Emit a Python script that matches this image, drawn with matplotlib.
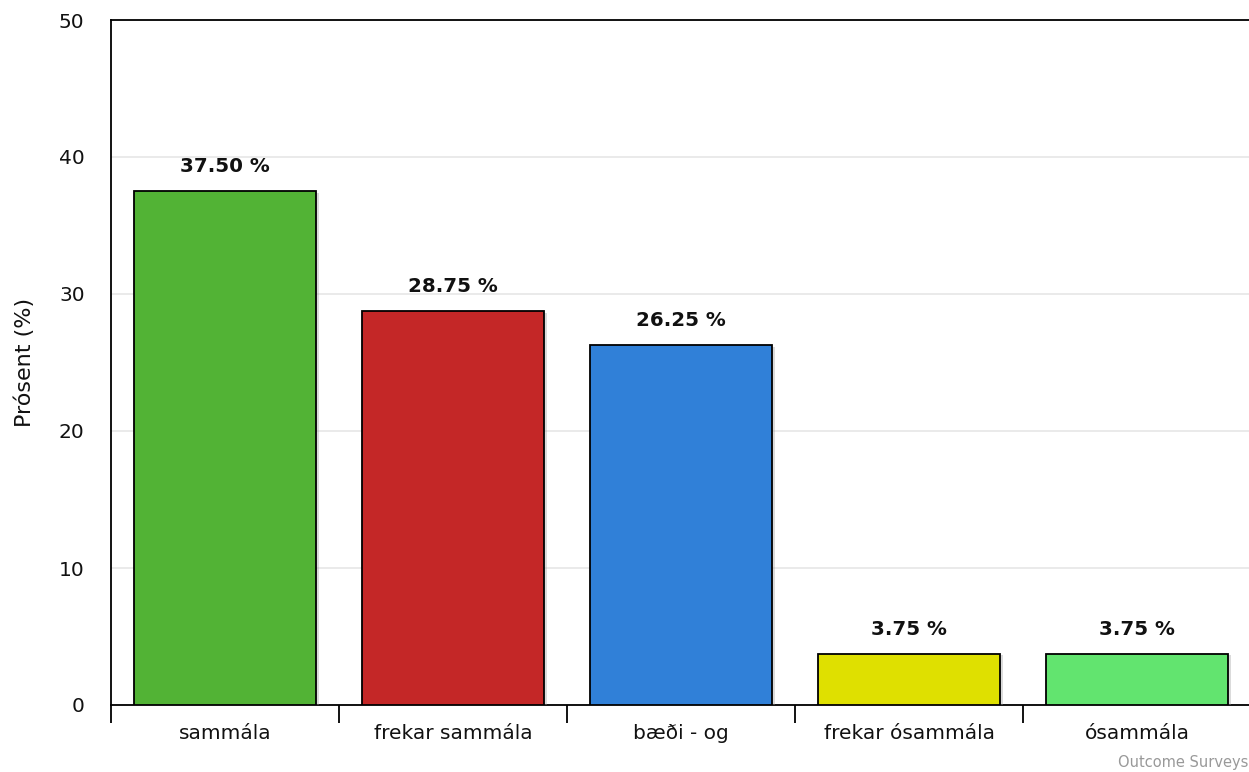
import numpy as np
import matplotlib.pyplot as plt
import matplotlib.patheffects as pe

categories = ["sammála", "frekar sammála", "bæði - og", "frekar ósammála", "ósammála"]
values = [37.50, 28.75, 26.25, 3.75, 3.75]
colors = ["#52b335", "#c42727", "#3080d8", "#dfe000", "#62e46f"]

W, H = 1249, 772
fig = plt.figure(figsize=(W / 100, H / 100), dpi=100)
# plot area runs a little past the right edge, as in the source
ax = fig.add_axes([111 / W, (H - 705) / H, 1140 / W, 685 / H])

x = np.arange(len(categories))
bars = ax.bar(x, values, width=0.8, color=colors, edgecolor="black", linewidth=1.3, zorder=3)
for b in bars:
    b.set_path_effects([pe.SimplePatchShadow(offset=(2, -1), shadow_rgbFace="#999999", alpha=0.35), pe.Normal()])

for xi, v in zip(x, values):
    ax.text(xi, v + 1.1, f"{v:.2f} %", ha="center", va="bottom", fontsize=14.3, fontweight="bold", color="#111111")

ax.set_xlim(-0.5, len(categories) - 0.5)
ax.set_ylim(0, 50)
ax.set_yticks([0, 10, 20, 30, 40, 50])
ax.yaxis.grid(True, color="#e6e6e6", linewidth=1.2, zorder=0)
ax.set_axisbelow(True)

ax.set_xticks(x)
ax.set_xticklabels(categories, fontsize=14.5, color="#111111")
ax.tick_params(axis="x", length=0, pad=14)
ax.set_xticks(np.arange(len(categories)) - 0.5, minor=True)
ax.tick_params(axis="x", which="minor", length=13, width=1.3, color="black")
ax.tick_params(axis="y", length=0, pad=19, labelsize=14.5, labelcolor="#111111")

for s in ["left", "bottom", "top"]:
    ax.spines[s].set_linewidth(1.3)
    ax.spines[s].set_color("black")
ax.spines["right"].set_visible(False)

ax.set_ylabel("Prósent (%)", fontsize=16, color="#111111", labelpad=17)

fig.text(1118 / W, 1 - 763 / H, "Outcome Surveys", fontsize=10.5, color="#999999", ha="left", va="center")

fig.savefig("out.png", dpi=100)
